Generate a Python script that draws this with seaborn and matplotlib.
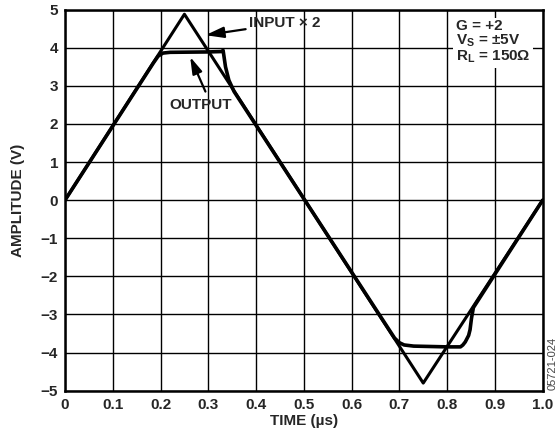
import seaborn as sns
import pandas as pd
import matplotlib.pyplot as plt
import numpy as np

# input x 2 (triangle)
input_t = [0.0, 0.25, 0.75, 1.0]
input_v = [0.0, 4.88, -4.80, 0.0]

# clipped output
output_t = [0.0, 0.185, 0.195, 0.205, 0.22, 0.30, 0.327, 0.331, 0.336, 0.343, 0.354,
            0.69, 0.70, 0.71, 0.73, 0.80, 0.828, 0.833, 0.838, 0.845, 0.848, 0.851, 0.855, 1.0]
output_v = [0.0, 3.60, 3.78, 3.86, 3.88, 3.89, 3.90, 3.93, 3.50, 3.15, 2.85,
            -3.62, -3.74, -3.80, -3.83, -3.85, -3.85, -3.80, -3.72, -3.55, -3.40, -3.10, -2.82, 0.0]

xticks = [0, 0.1, 0.2, 0.3, 0.4, 0.5, 0.6, 0.7, 0.8, 0.9, 1.0]
xtick_labels = ["0", "0.1", "0.2", "0.3", "0.4", "0.5", "0.6", "0.7", "0.8", "0.9", "1.0"]
yticks = [-5, -4, -3, -2, -1, 0, 1, 2, 3, 4, 5]

sns.set_style("white")
plt.rcParams['font.family'] = ['Liberation Sans', 'DejaVu Sans']
plt.rcParams['mathtext.fontset'] = 'custom'
plt.rcParams['mathtext.rm'] = 'Liberation Sans:bold'
plt.rcParams['mathtext.bf'] = 'Liberation Sans:bold'

df_in = pd.DataFrame({'t': input_t, 'v': input_v})
df_out = pd.DataFrame({'t': output_t, 'v': output_v})

fig = plt.figure(figsize=(5.58, 4.38), dpi=100)
ax = fig.add_axes([0.1165, 0.108, 0.856, 0.870])

sns.lineplot(x='t', y='v', data=df_in, ax=ax, color='black', linewidth=2.2,
             sort=False, estimator=None)
sns.lineplot(x='t', y='v', data=df_out, ax=ax, color='black', linewidth=2.6,
             sort=False, estimator=None)

ax.set_xlim(0, 1.0)
ax.set_ylim(-5, 5)
ax.set_xticks(xticks)
ax.set_xticklabels(xtick_labels)
ax.set_yticks(yticks)
ax.grid(True, color='black', linewidth=1.0)
ax.set_axisbelow(True)
for s in ax.spines.values():
    s.set_linewidth(1.8)
    s.set_color('black')
ax.tick_params(length=0, labelsize=11, pad=5)
for lbl in ax.get_xticklabels() + ax.get_yticklabels():
    lbl.set_fontweight('bold')

ax.set_xlabel("TIME (µs)", fontsize=11, fontweight='bold', labelpad=2)
ax.set_ylabel("AMPLITUDE (V)", fontsize=11, fontweight='bold', labelpad=11)

arrow = dict(arrowstyle='-|>,head_length=1.0,head_width=0.3', color='black',
             linewidth=1.6, shrinkA=0, shrinkB=0)
ax.annotate("INPUT × 2", xy=(0.294, 4.33), xytext=(0.385, 4.64),
            fontsize=11, fontweight='bold', va='center', ha='left', arrowprops=arrow)
ax.text(0.283, 2.49, "OUTPUT", fontsize=11, fontweight='bold', va='center', ha='center')
ax.annotate("", xy=(0.262, 3.76), xytext=(0.294, 2.85), arrowprops=arrow)

ax.text(0.818, 4.75, "G = +2\nV$_\\mathrm{S}$ = ±5V\nR$_\\mathrm{L}$ = 150Ω", fontsize=11,
        fontweight='bold', va='top', ha='left', linespacing=0.95,
        bbox=dict(facecolor='white', edgecolor='none', pad=2))

fig.text(0.991, 0.11, "05721-024", rotation=90, fontsize=8, color='#444444',
         ha='center', va='bottom')

fig.savefig("out.png", dpi=100)
